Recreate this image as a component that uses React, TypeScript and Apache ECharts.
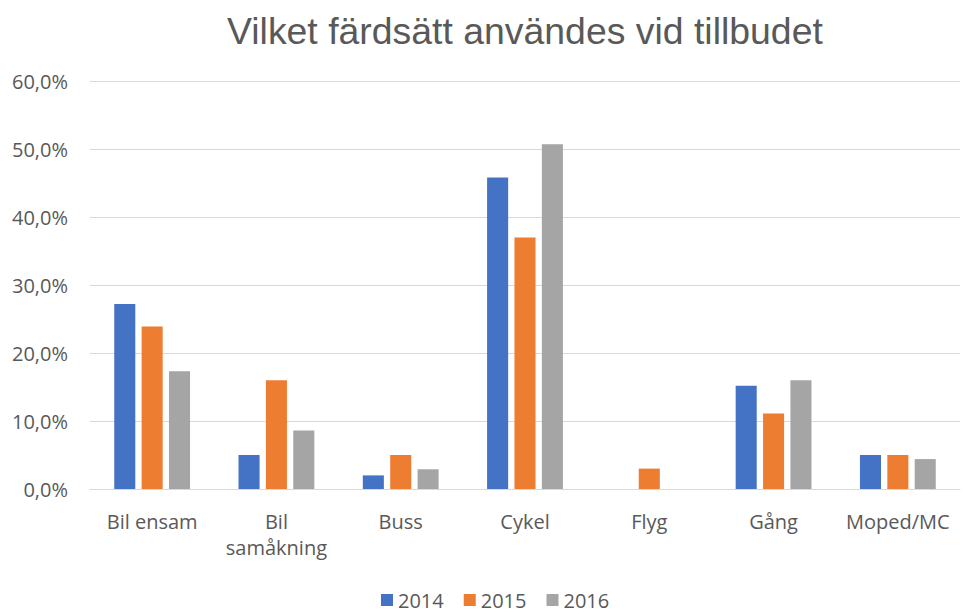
import React, { useEffect, useRef } from "react";
import * as echarts from "echarts";

const categories = ["Bil ensam", "Bil samåkning", "Buss", "Cykel", "Flyg", "Gång", "Moped/MC"];
const seriesNames = ["2014", "2015", "2016"];
const values2014 = [27.2, 5.0, 2.0, 45.8, 0, 15.2, 5.0];
const values2015 = [23.9, 16.0, 5.0, 37.0, 3.0, 11.1, 5.0];
const values2016 = [17.3, 8.6, 2.9, 50.7, 0, 16.0, 4.4];
const colors = ["#4472C4", "#ED7D31", "#A5A5A5"];

export default function App() {
  const ref = useRef<HTMLDivElement>(null);
  useEffect(() => {
    if (!ref.current) return;
    const chart = echarts.init(ref.current, null, { renderer: "svg" });
    const font = "'Open Sans', 'Liberation Sans', sans-serif";
    const data = [values2014, values2015, values2016];
    chart.setOption({
      animation: false,
      backgroundColor: "#ffffff",
      title: {
        text: "Vilket färdsätt användes vid tillbudet",
        left: 227,
        top: 9,
        padding: 0,
        textStyle: { fontFamily: "'Liberation Sans', Arial, sans-serif", fontSize: 37.4, lineHeight: 44, fontWeight: "normal", color: "#595959" },
      },
      legend: {
        top: 590,
        left: 381,
        itemWidth: 12,
        itemHeight: 12,
        itemGap: 20,
        padding: 0,
        icon: "rect",
        textStyle: { fontFamily: font, fontSize: 20, color: "#595959" },
        data: seriesNames,
      },
      grid: { left: 90, right: 7, top: 81, bottom: 123, containLabel: false },
      xAxis: {
        type: "category",
        data: categories,
        axisLine: { lineStyle: { color: "#D9D9D9", width: 1 } },
        axisTick: { show: false },
        axisLabel: {
          fontFamily: font,
          fontSize: 20,
          color: "#595959",
          margin: 19,
          lineHeight: 26,
          interval: 0,
          formatter: (v: string) => (v === "Bil samåkning" ? "Bil\nsamåkning" : v),
        },
      },
      yAxis: {
        type: "value",
        min: 0,
        max: 60,
        interval: 10,
        axisLine: { show: false },
        axisTick: { show: false },
        splitLine: { lineStyle: { color: "#D9D9D9", width: 1 } },
        axisLabel: {
          fontFamily: font,
          fontSize: 20,
          color: "#595959",
          margin: 22,
          formatter: (v: number) => v.toFixed(1).replace(".", ",") + "%",
        },
      },
      series: seriesNames.map((name, i) => ({
        name,
        type: "bar",
        data: data[i],
        barGap: "30%",
        barCategoryGap: "39%",
        itemStyle: { color: colors[i] },
      })),
    });
    return () => chart.dispose();
  }, []);
  return (
    <div
      ref={ref}
      style={{ position: "fixed", left: 0, top: 0, width: 967, height: 612 }}
    />
  );
}
